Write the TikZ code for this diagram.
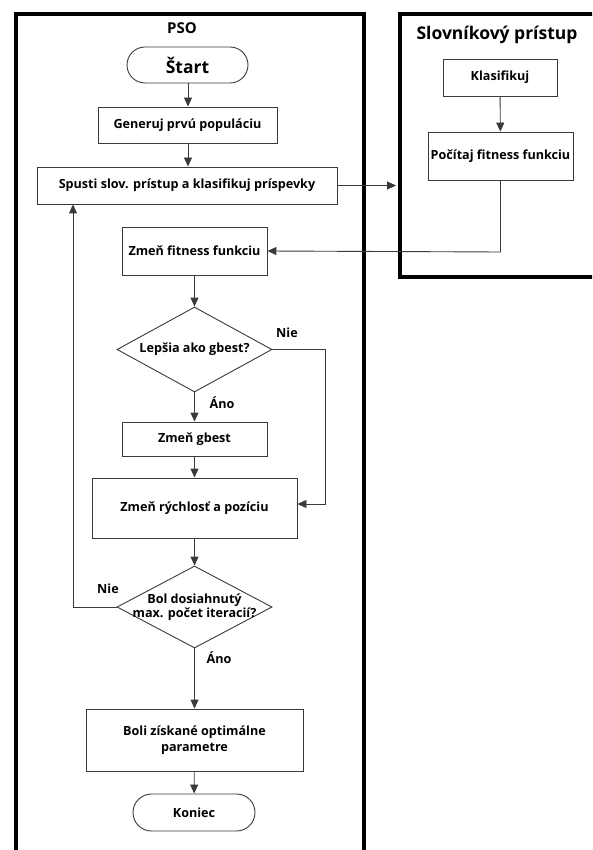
\documentclass[tikz,border=0pt]{standalone}
\usepackage{fontspec}
\setmainfont{Open Sans}
\usetikzlibrary{shapes.geometric,shapes.misc,arrows.meta}
\definecolor{ln}{HTML}{3A3A3A}
\begin{document}
\begin{tikzpicture}[x=1pt,y=-1pt,
  font=\bfseries\fontsize{12.6}{16}\selectfont,
  box/.style={draw=ln,line width=0.9pt,rectangle,inner sep=0pt,align=center},
  term/.style={draw=ln,line width=0.9pt,rounded rectangle,inner sep=0pt},
  dia/.style={draw=ln,line width=0.9pt,diamond,inner sep=0pt},
  frame/.style={draw=black,line width=4pt},
  arr/.style={draw=ln,line width=0.9pt,-{Triangle[length=9pt,width=8pt]}},
  lab/.style={inner sep=0pt}]
\useasboundingbox (0,0) rectangle (592,850);
\clip (0,0) rectangle (592,850);
\fill[white] (0,0) rectangle (592,850);
% frames
\node[frame,minimum width=348pt,minimum height=870pt,anchor=north west] (pso) at (14,12) {};
\node[frame,minimum width=230pt,minimum height=263pt,anchor=north west] (slov) at (398,12) {};
\node[lab,font=\bfseries\fontsize{15}{17}\selectfont] (psot) at (182,28) {PSO};
\node[lab,font=\bfseries\fontsize{17.5}{20}\selectfont] (slovt) at (497,35) {Slovníkový prístup};
% PSO nodes
\node[term,minimum width=121pt,minimum height=36pt,font=\bfseries\fontsize{17.5}{20}\selectfont] (start) at (187.5,65) {Štart};
\node[box,minimum width=179pt,minimum height=36pt] (gen) at (187.5,125) {Generuj prvú populáciu};
\node[box,minimum width=300pt,minimum height=37pt] (spusti) at (187,185.5) {Spusti slov. prístup a klasifikuj príspevky};
\node[box,minimum width=114pt,minimum height=37pt] (klas) at (500,77.5) {Klasifikuj};
\node[box,minimum width=145pt,minimum height=48pt] (poc) at (500.5,156) {Počítaj fitness funkciu};
\node[box,minimum width=145pt,minimum height=48pt] (zfit) at (194.5,251) {Zmeň fitness funkciu};
\node[dia,minimum width=155pt,minimum height=85pt] (lep) at (194.5,349.5) {};
\node[lab] (lept) at (194.5,349.5) {Lepšia ako gbest?};
\node[box,minimum width=145pt,minimum height=34pt] (gbest) at (194.5,439) {Zmeň gbest};
\node[box,minimum width=205pt,minimum height=60pt] (ryc) at (194.5,508) {Zmeň rýchlosť a pozíciu};
\node[dia,minimum width=155pt,minimum height=82pt] (bol) at (194.5,607) {};
\node[lab,align=center,font=\bfseries\fontsize{12.6}{14}\selectfont] (bolt) at (194.5,607) {Bol dosiahnutý\\max. počet iteracií?};
\node[box,minimum width=217pt,minimum height=62pt] (opt) at (194.5,740) {Boli získané optimálne\\parametre};
\node[term,minimum width=122pt,minimum height=37pt] (kon) at (194,812.5) {Koniec};
% labels
\node[lab] (nie1) at (287,333) {Nie};
\node[lab] (ano1) at (222,403) {Áno};
\node[lab] (nie2) at (108,589) {Nie};
\node[lab] (ano2) at (219,658) {Áno};
% connectors
\draw[arr] (start.south -| 188,0) -- (gen.north -| 188,0);
\draw[arr] (gen.south -| 188,0) -- (spusti.north -| 188,0);
\draw[arr,shorten >=2pt] (spusti.east) -- (spusti.east -| slov.west);
\draw[arr] (klas) -- (poc);
\coordinate (pb) at (500.5,252);
\draw[arr] (poc.south) -- (pb) -- (zfit.east);
\draw[arr] (zfit) -- (lep);
\draw[arr] (lep) -- (gbest);
\draw[arr] (gbest) -- (ryc);
\coordinate (nr) at (325,349.5);
\draw[arr] (lep.east) -- (nr) |- ([yshift=4pt]ryc.east);
\draw[arr] (ryc) -- (bol);
\coordinate (ll) at (73,607);
\draw[arr] (bol.west) -- (ll) -- (ll |- spusti.south);
\draw[arr] (bol) -- (opt);
\draw[arr] (opt) -- (kon);
\end{tikzpicture}
\end{document}
